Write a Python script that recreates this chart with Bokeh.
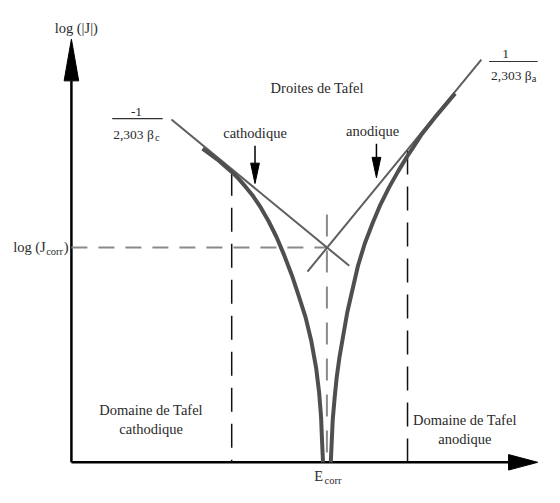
from bokeh.plotting import figure
from bokeh.models import Range1d
from bokeh.core.properties import value
from bokeh.embed import file_html
from bokeh.resources import INLINE

# ---------------- data (schematic units: E = potential, logJ = log|J|) ----------------
E_CORR = 26.3
LOG_J_CORR = 22.2

# measured polarisation curve, cathodic branch
cath_curve_E = [13.5, 15.0, 16.5, 17.2, 17.9, 18.7, 19.5, 20.3, 21.1, 21.9, 22.7,
                23.4, 24.1, 24.7, 25.2, 25.5, 25.7, 25.8, 25.9]
cath_curve_logJ = [32.4, 31.3, 30.0, 29.3, 28.5, 27.5, 26.3, 24.9, 23.3, 21.4, 19.3,
                   17.2, 15.0, 12.5, 9.7, 7.2, 4.7, 2.2, 0.0]
# measured polarisation curve, anodic branch
anod_curve_E = [26.7, 26.8, 26.9, 27.1, 27.3, 27.6, 28.0, 28.4, 28.9, 29.5, 30.2,
                31.0, 31.8, 32.7, 33.6, 34.5, 35.3, 36.0, 37.4, 39.5]
anod_curve_logJ = [0.0, 2.2, 4.4, 6.7, 8.7, 10.9, 13.2, 15.5, 17.7, 20.3, 22.6,
                   24.7, 26.6, 28.4, 30.0, 31.5, 32.7, 33.8, 35.6, 38.1]

# Tafel straight lines
cath_line_E = [10.3, 28.6]
cath_line_logJ = [35.4, 20.3]
anod_line_E = [24.3, 42.2]
anod_line_logJ = [19.7, 41.6]

# limits of the Tafel domains
domain_E = [16.5, 34.6]
domain_top_logJ = [30.0, 32.2]
ecorr_line_top = 25.6

# ---------------- layout / style ----------------
FONT = value("Liberation Serif")
TXT = "#2a2a2a"
W, H = 544, 487

p = figure(width=W, height=H, output_backend="svg", toolbar_location=None,
           x_range=Range1d(-7.3, 48.7), y_range=Range1d(-2.6, 47.7),
           x_axis_type=None, y_axis_type=None, min_border=0)
p.grid.visible = False
p.outline_line_color = None
p.background_fill_color = "white"
p.border_fill_color = "white"

# axes with arrow heads
X_END, Y_END = 48.0, 43.7
X_HEAD, Y_HEAD = 3.0, 4.3
p.line([0, X_END - X_HEAD], [0, 0], line_color="black", line_width=2.5)
p.line([0, 0], [0, Y_END - Y_HEAD], line_color="black", line_width=2.5)
p.patch([X_END - X_HEAD, X_END, X_END - X_HEAD], [0.8, 0, -0.8], color="black")
p.patch([-0.75, 0, 0.75], [Y_END - Y_HEAD, Y_END, Y_END - Y_HEAD], color="black")

# dashed guides
p.line([0, E_CORR], [LOG_J_CORR, LOG_J_CORR], line_color="#8a8a8a", line_width=2,
       line_dash="16 11")
p.line([E_CORR, E_CORR], [ecorr_line_top, 0], line_color="#8a8a8a", line_width=2,
       line_dash="22 14")
for e, top in zip(domain_E, domain_top_logJ):
    p.line([e, e], [top, 0], line_color="#111111", line_width=1.5, line_dash="24 12")

# Tafel lines
p.line(cath_line_E, cath_line_logJ, line_color="#5e5e5e", line_width=2)
p.line(anod_line_E, anod_line_logJ, line_color="#5e5e5e", line_width=2)

# polarisation curve
p.line(cath_curve_E, cath_curve_logJ, line_color="#4f4f4f", line_width=4, line_join="round")
p.line(anod_curve_E, anod_curve_logJ, line_color="#4f4f4f", line_width=4, line_join="round")

# small pointer arrows
def pointer(x, y0, ytip, head=2.1, hw=0.45):
    p.line([x, x], [y0, ytip + head], line_color="black", line_width=1.5)
    p.patch([x - hw, x, x + hw], [ytip + head, ytip, ytip + head], color="black")

pointer(18.9, 32.7, 28.8)
pointer(31.4, 32.9, 29.4)

# texts
def txt(x, y, s, size="14.5px", align="center", baseline="middle"):
    p.text(x=[x], y=[y], text=[s], text_font=FONT, text_font_size=size,
           text_align=align, text_baseline=baseline, text_color=TXT)

txt(0.5, 44.9, "log (|J|)")
txt(25.3, 38.7, "Droites de Tafel")
txt(18.9, 34.0, "cathodique")
txt(31.0, 34.2, "anodique")

# left fraction  -1 / (2,303 beta_c)
txt(6.7, 36.2, "-1", size="13.5px")
p.line([4.2, 9.4], [35.5, 35.5], line_color="#333333", line_width=1.2)
txt(4.3, 33.9, "2,303 \u03b2", size="13.5px", align="left")
txt(8.6, 33.5, "c", size="10.5px", align="left")

# right fraction  1 / (2,303 beta_a)
txt(44.7, 42.2, "1", size="13.5px")
p.line([43.0, 48.0], [41.4, 41.4], line_color="#333333", line_width=1.2)
txt(43.2, 40.0, "2,303 \u03b2", size="13.5px", align="left")
txt(47.4, 39.6, "a", size="10.5px", align="left")

# log(Jcorr)
txt(-6.0, LOG_J_CORR, "log (J", align="left")
txt(-2.6, LOG_J_CORR - 0.4, "corr", size="10.5px", align="left")
txt(-0.8, LOG_J_CORR, ")", align="left")

# domains
txt(8.2, 5.4, "Domaine de Tafel")
txt(8.2, 3.4, "cathodique")
txt(40.5, 4.4, "Domaine de Tafel")
txt(40.5, 2.4, "anodique")

# E_corr
txt(25.0, -2.2, "E", align="left", baseline="bottom")
txt(26.05, -2.45, "corr", size="10.5px", align="left", baseline="bottom")

open("out.html", "w").write(file_html(p, INLINE))
